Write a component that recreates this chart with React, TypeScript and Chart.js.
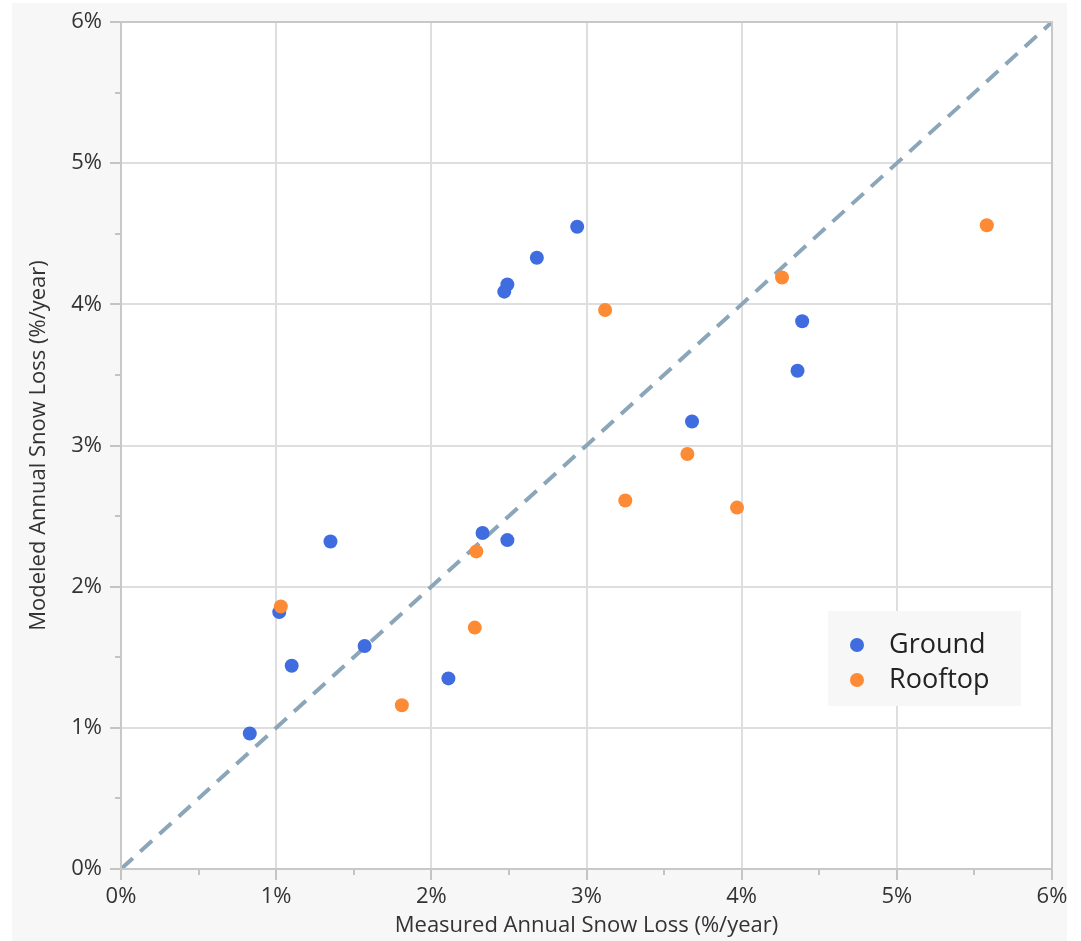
import React, { useEffect, useRef } from "react";
import { Chart, registerables } from "chart.js";

Chart.register(...registerables);

const groundX = [0.83, 1.02, 1.1, 1.35, 1.57, 2.11, 2.33, 2.49, 2.47, 2.49, 2.68, 2.94, 3.68, 4.36, 4.39];
const groundY = [0.96, 1.82, 1.44, 2.32, 1.58, 1.35, 2.38, 2.33, 4.09, 4.14, 4.33, 4.55, 3.17, 3.53, 3.88];
const rooftopX = [1.03, 1.81, 2.28, 2.29, 3.12, 3.25, 3.65, 3.97, 4.26, 5.58];
const rooftopY = [1.86, 1.16, 1.71, 2.25, 3.96, 2.61, 2.94, 2.56, 4.19, 4.56];
const diagonal = [0, 6];
const seriesNames = ["Ground", "Rooftop"];
const xTitle = "Measured Annual Snow Loss (%/year)";
const yTitle = "Modeled Annual Snow Loss (%/year)";

const BLUE = "#3f6de0";
const ORANGE = "#fd8a35";
const FONT = "'Open Sans', 'Noto Sans', sans-serif";

const decor = {
  id: "decor",
  beforeDraw(chart: any) {
    const { ctx, chartArea: a, width, height } = chart;
    ctx.save();
    ctx.fillStyle = "#ffffff";
    ctx.fillRect(0, 0, width, height);
    ctx.fillStyle = "#f7f7f7";
    ctx.fillRect(12, 3, 1055, height - 3);
    ctx.fillStyle = "#ffffff";
    ctx.fillRect(a.left, a.top, a.right - a.left, a.bottom - a.top);
    ctx.restore();
  },
  afterDraw(chart: any) {
    const { ctx, chartArea: a } = chart;
    const xs = chart.scales.x;
    const ys = chart.scales.y;
    ctx.save();
    ctx.strokeStyle = "#c4c4c4";
    ctx.lineWidth = 2;
    for (let v = 0; v <= 6.001; v += 0.5) {
      const major = Math.abs(v - Math.round(v)) < 1e-6;
      const len = major ? 11 : 6;
      const px = Math.round(xs.getPixelForValue(v));
      ctx.beginPath();
      ctx.moveTo(px, a.bottom);
      ctx.lineTo(px, a.bottom + len);
      ctx.stroke();
      const py = Math.round(ys.getPixelForValue(v));
      ctx.beginPath();
      ctx.moveTo(a.left, py);
      ctx.lineTo(a.left - len, py);
      ctx.stroke();
    }
    ctx.strokeStyle = "#c8c8c8";
    ctx.lineWidth = 2;
    ctx.strokeRect(a.left, a.top, a.right - a.left, a.bottom - a.top);

    // legend
    const lx = 828, ly = 611, lw = 193, lh = 95;
    ctx.fillStyle = "#f7f7f7";
    ctx.fillRect(lx, ly, lw, lh);
    const ds = chart.data.datasets;
    ctx.font = `27px ${FONT}`;
    ctx.textBaseline = "middle";
    ctx.textAlign = "left";
    for (let i = 0; i < 2; i++) {
      const cy = 645 + i * 35;
      ctx.fillStyle = ds[i].backgroundColor;
      ctx.beginPath();
      ctx.arc(857, cy, 7, 0, Math.PI * 2);
      ctx.fill();
      ctx.fillStyle = "#222222";
      ctx.fillText(ds[i].label, 889, cy);
    }
    ctx.restore();
  },
};

export default function App() {
  const ref = useRef<HTMLCanvasElement | null>(null);
  useEffect(() => {
    if (!ref.current) return;
    const chart = new Chart(ref.current, {
      data: {
        datasets: [
          {
            type: "scatter",
            label: seriesNames[0],
            data: groundX.map((x, i) => ({ x, y: groundY[i] })),
            backgroundColor: BLUE,
            borderColor: BLUE,
            pointRadius: 7,
            pointBorderWidth: 0,
            order: 1,
          },
          {
            type: "scatter",
            label: seriesNames[1],
            data: rooftopX.map((x, i) => ({ x, y: rooftopY[i] })),
            backgroundColor: ORANGE,
            borderColor: ORANGE,
            pointRadius: 7,
            pointBorderWidth: 0,
            order: 0,
          },
          {
            type: "line",
            label: "1:1",
            data: diagonal.map((v) => ({ x: v, y: v })),
            borderColor: "#8ba6b8",
            borderWidth: 4,
            borderDash: [16, 10],
            pointRadius: 0,
            fill: false,
            order: 2,
          },
        ] as any,
      },
      options: {
        animation: false,
        responsive: false,
        layout: { padding: { top: 22, right: 29, left: 0, bottom: 0 } },
        plugins: { legend: { display: false }, tooltip: { enabled: false } },
        scales: {
          x: {
            type: "linear",
            min: 0,
            max: 6,
            afterFit(s: any) {
              s.height = 72;
              s.paddingLeft = 0;
              s.paddingRight = 0;
            },
            ticks: {
              stepSize: 0.5,
              padding: 15,
              color: "#333333",
              font: { family: FONT, size: 22 },
              maxRotation: 0,
              autoSkip: false,
              callback: (v: any) => (Math.abs(v - Math.round(v)) < 1e-6 ? `${Math.round(v)}%` : ""),
            },
            grid: {
              drawTicks: false,
              color: (c: any) => (Math.abs(c.tick.value - Math.round(c.tick.value)) < 1e-6 ? "#dedede" : "transparent"),
              lineWidth: 2,
            },
            border: { display: false },
            title: {
              display: true,
              text: xTitle,
              color: "#333333",
              font: { family: FONT, size: 22 },
              padding: { top: 0, bottom: 2 },
            },
          },
          y: {
            type: "linear",
            min: 0,
            max: 6,
            afterFit(s: any) {
              s.width = 121;
              s.paddingTop = 0;
              s.paddingBottom = 0;
            },
            ticks: {
              stepSize: 0.5,
              padding: 19,
              color: "#333333",
              font: { family: FONT, size: 22 },
              autoSkip: false,
              callback: (v: any) => (Math.abs(v - Math.round(v)) < 1e-6 ? `${Math.round(v)}%` : ""),
            },
            grid: {
              drawTicks: false,
              color: (c: any) => (Math.abs(c.tick.value - Math.round(c.tick.value)) < 1e-6 ? "#dedede" : "transparent"),
              lineWidth: 2,
            },
            border: { display: false },
            title: {
              display: true,
              text: yTitle,
              color: "#333333",
              font: { family: FONT, size: 22 },
              padding: { top: 26, bottom: 0 },
            },
          },
        },
      } as any,
      plugins: [decor],
    });
    return () => chart.destroy();
  }, []);
  return (
    <div style={{ position: "fixed", left: 0, top: 0, width: 1081, height: 941 }}>
      <canvas ref={ref} width={1081} height={941} style={{ display: "block", width: 1081, height: 941 }} />
    </div>
  );
}
